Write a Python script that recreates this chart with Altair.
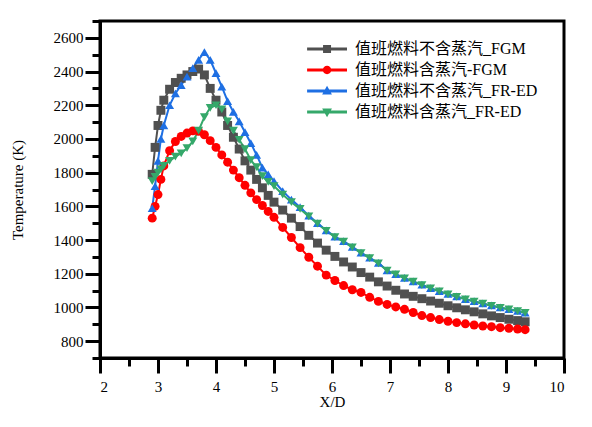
import altair as alt
import pandas as pd

SERIES = [
    "值班燃料不含蒸汽_FGM",
    "值班燃料含蒸汽-FGM",
    "值班燃料不含蒸汽_FR-ED",
    "值班燃料含蒸汽_FR-ED",
]
COLORS = ["#505050", "#ff0000", "#1e6fe3", "#35a86a"]

x_d = [2.9, 2.95, 3.0, 3.05, 3.1, 3.2, 3.3, 3.4, 3.5, 3.6, 3.7, 3.8, 3.9, 4.0,
       4.1, 4.2, 4.3, 4.4, 4.5, 4.6, 4.7, 4.8, 4.9, 5.0, 5.15, 5.3, 5.45, 5.6,
       5.75, 5.9, 6.05, 6.2, 6.35, 6.5, 6.65, 6.8, 6.95, 7.1, 7.25, 7.4, 7.55,
       7.7, 7.85, 8.0, 8.15, 8.3, 8.45, 8.6, 8.75, 8.9, 9.05, 9.2, 9.33]

t_fgm_dry = [1790, 1950, 2080, 2170, 2230, 2295, 2335, 2360, 2380, 2400, 2415,
             2380, 2300, 2230, 2160, 2080, 2010, 1940, 1870, 1815, 1760, 1710,
             1665, 1625, 1578, 1530, 1480, 1428, 1382, 1340, 1303, 1270, 1240,
             1207, 1180, 1152, 1127, 1102, 1080, 1066, 1052, 1038, 1025, 1010,
             998, 986, 974, 962, 950, 940, 930, 922, 915]

t_fgm_steam = [1530, 1600, 1670, 1760, 1840, 1930, 1985, 2015, 2035, 2048, 2045,
               2025, 1990, 1950, 1905, 1862, 1815, 1770, 1725, 1680, 1640, 1605,
               1570, 1535, 1475, 1415, 1355, 1298, 1245, 1192, 1160, 1130, 1105,
               1089, 1060, 1036, 1018, 1003, 989, 970, 952, 940, 928, 918, 910,
               903, 896, 890, 886, 880, 876, 872, 868]

t_fred_dry = [1590, 1720, 1870, 2000, 2080, 2200, 2270, 2320, 2370, 2420, 2470,
              2515, 2470, 2390, 2310, 2225, 2160, 2105, 2040, 1975, 1905, 1830,
              1790, 1750, 1690, 1640, 1595, 1545, 1500, 1458, 1420, 1393, 1360,
              1325, 1295, 1265, 1220, 1198, 1175, 1155, 1135, 1115, 1097, 1080,
              1065, 1050, 1037, 1024, 1012, 1000, 990, 980, 970]

t_fred_steam = [1750, 1775, 1800, 1820, 1840, 1870, 1895, 1915, 1945, 1985, 2050,
                2130, 2185, 2200, 2175, 2105, 2050, 1995, 1940, 1875, 1833, 1780,
                1745, 1720, 1670, 1625, 1585, 1540, 1497, 1455, 1417, 1390, 1357,
                1322, 1292, 1262, 1218, 1196, 1173, 1153, 1133, 1113, 1095, 1078,
                1063, 1048, 1035, 1022, 1010, 998, 988, 978, 968]

rows = []
for name, temps in zip(SERIES, [t_fgm_dry, t_fgm_steam, t_fred_dry, t_fred_steam]):
    for xv, tv in zip(x_d, temps):
        rows.append({"xd": xv, "temp": tv, "series": name})
df = pd.DataFrame(rows)

FONT = "'Liberation Serif'"

x_scale = alt.Scale(domain=[2, 10], nice=False)
y_scale = alt.Scale(domain=[700, 2700], nice=False)
color = alt.Color("series:N", scale=alt.Scale(domain=SERIES, range=COLORS), legend=None)

x_major = alt.X("xd:Q", scale=x_scale, title="X/D",
                axis=alt.Axis(values=list(range(2, 11)), tickSize=15, orient="bottom",
                              labelPadding=6, titlePadding=0, grid=False))
y_major = alt.Y("temp:Q", scale=y_scale, title="Temperature (K)",
                axis=alt.Axis(values=list(range(800, 2601, 200)), tickSize=15, orient="left",
                              format="d", labelPadding=2, titlePadding=28, grid=False))

lines = alt.Chart(df).mark_line(strokeWidth=2).encode(
    x=x_major, y=y_major, color=color, detail="series:N"
)

points = alt.Chart(df).mark_point(filled=True, size=80, opacity=1).encode(
    x=alt.X("xd:Q", scale=x_scale, title=None,
            axis=alt.Axis(values=[2.5 + i for i in range(8)], tickSize=8, labels=False,
                          domain=False, orient="bottom", grid=False)),
    y=alt.Y("temp:Q", scale=y_scale, title=None,
            axis=alt.Axis(values=list(range(700, 2701, 200)), tickSize=8, labels=False,
                          domain=False, orient="left", grid=False)),
    color=color,
    shape=alt.Shape("series:N", scale=alt.Scale(
        domain=SERIES, range=["square", "circle", "triangle-up", "triangle-down"]),
        legend=None),
)

# legend symbols: a line with the marker on it
line_part = "M-4.7,-0.21 L1,-0.21 L1,0.21 L-4.7,0.21 Z "
legend_paths = [
    line_part + "M-2.42,-0.57 L-1.28,-0.57 L-1.28,0.57 L-2.42,0.57 Z",
    line_part + "M-2.45,0 A0.6,0.6 0 1,1 -1.25,0 A0.6,0.6 0 1,1 -2.45,0 Z",
    line_part + "M-1.85,-0.75 L-1.15,0.5 L-2.55,0.5 Z",
    line_part + "M-1.85,0.75 L-2.55,-0.5 L-1.15,-0.5 Z",
]

legend_opts = dict(
    title=None, orient="none", legendX=232, legendY=20,
    symbolSize=196, symbolOpacity=1, symbolStrokeWidth=0,
    symbolFillColor=alt.ExprRef("scale('color', datum.value)"),
    labelFont=f"{FONT}, 'Noto Sans CJK SC'", labelFontSize=16,
    labelColor="black", labelOffset=7, rowPadding=5, labelLimit=400,
)

legend_layer = alt.Chart(df).mark_point(filled=True, opacity=0).encode(
    x=alt.X("xd:Q", scale=x_scale, axis=None),
    y=alt.Y("temp:Q", scale=y_scale, axis=None),
    color=alt.Color("series:N", scale=alt.Scale(domain=SERIES, range=COLORS),
                    legend=alt.Legend(**legend_opts)),
    shape=alt.Shape("series:N", scale=alt.Scale(domain=SERIES, range=legend_paths),
                    legend=alt.Legend(**legend_opts)),
)

chart = (
    alt.layer(lines, points, legend_layer)
    .resolve_scale(shape="independent")
    .resolve_axis(x="independent", y="independent")
    .properties(
        width=464,
        height=337,
        autosize=alt.AutoSizeParams(type="none"),
        padding={"left": 92, "top": 13, "right": 20, "bottom": 50},
    )
    .configure_view(stroke="black", strokeWidth=3)
    .configure_axis(
        domainColor="black", domainWidth=3, tickColor="black", tickWidth=3,
        labelFont=FONT, labelFontSize=15, labelColor="black",
        titleFont=FONT, titleFontSize=15, titleFontWeight="normal", titleColor="black",
    )
)

chart.save("out.html", embed_options={"renderer": "svg", "actions": False})
